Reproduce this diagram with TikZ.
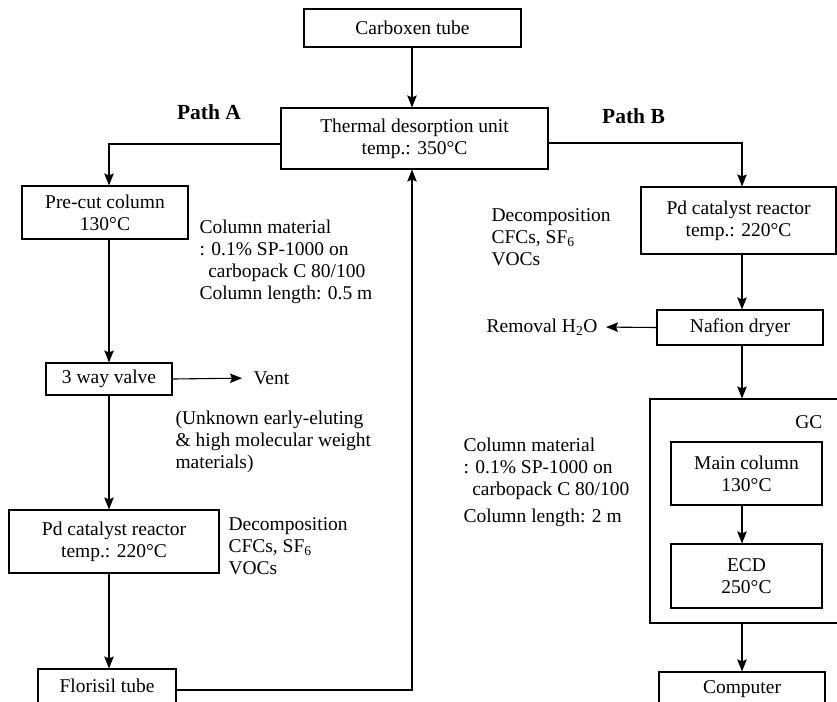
\documentclass[tikz,border=0pt]{standalone}
\usepackage{fontspec}
\setmainfont{Liberation Serif}
\usetikzlibrary{arrows.meta}

\begin{document}
\begin{tikzpicture}[
    x = 1pt, y = -1pt,
    >= {Stealth[length = 12pt, width = 9.5pt, inset = 2pt]},
    line width = 1.1pt,
    every node/.style = {font = \fontsize{19.5}{22}\selectfont, inner sep = 0pt},
    unit/.style = {shape = rectangle, draw = black, align = center},
    note/.style = {align = left, anchor = west},
    pathlabel/.style = {font = \fontsize{21.5}{24}\selectfont\bfseries},
  ]
        \useasboundingbox (0, 0) rectangle (837, 701);

        % ------------------------------------------------------------------------
        % Sample inlet
        \node[unit, minimum width = 217, minimum height = 38] at (412.5, 28) (carboxen) {Carboxen tube};
        \node[unit, minimum width = 267, minimum height = 61] at (414.5, 138.5) (thermal)
          {Thermal desorption unit\\temp.: 350°C};

        \coordinate (colA) at (109, 0);
        \coordinate (colB) at (742, 0);
        \coordinate (colR) at (412, 0);

        \draw
          (carboxen.south -| colR) edge[->] (thermal.north -| colR)
        ;

        % ------------------------------------------------------------------------
        % Path A
        \node[pathlabel] at (209, 112) (pathA) {Path A};

        \node[unit, minimum width = 166, minimum height = 53] at (105, 212.5) (precut) {Pre-cut column\\130°C};
        \node[note] at (199, 261.5) (colmatA)
          {Column material\\: 0.1\% SP-1000 on\\\hspace{0.45em}carbopack C 80/100\\Column length: 0.5 m};

        \node[unit, minimum width = 126, minimum height = 32] at (109, 379) (valve) {3 way valve};
        \node[note] at (253, 378) (vent) {Vent};
        \node[note] at (175, 442) (unknown)
          {(Unknown early-eluting\\\& high molecular weight\\materials)};

        \node[unit, minimum width = 210, minimum height = 63] at (114, 541.5) (pdA)
          {Pd catalyst reactor\\temp.: 220°C};
        \node[note] at (228, 546.5) (decompA)
          {Decomposition\\CFCs, SF\textsubscript{6}\\VOCs};

        \node[unit, minimum width = 138, minimum height = 34] at (107, 686) (florisil) {Florisil tube};

        \draw[->]
          ([yshift = -5.5pt]thermal.west) -| (precut.north -| colA)
        ;
        \draw
          (precut.south -| colA) edge[->] (valve.north -| colA)
          (valve.east) edge[->, shorten >= 11pt] (vent.west)
          (valve.south -| colA) edge[->] (pdA.north -| colA)
          (pdA.south -| colA) edge[->] (florisil.north -| colA)
        ;
        \draw[->]
          ([yshift = -4pt]florisil.east) -| (thermal.south -| colR)
        ;

        % ------------------------------------------------------------------------
        % Path B
        \node[pathlabel] at (633.5, 116) (pathB) {Path B};

        \node[unit, minimum width = 195, minimum height = 67] at (738.5, 220.5) (pdB)
          {Pd catalyst reactor\\temp.: 220°C};
        \node[note] at (491, 237) (decompB)
          {Decomposition\\CFCs, SF\textsubscript{6}\\VOCs};

        \node[unit, minimum width = 166, minimum height = 35] at (740, 327.5) (nafion) {Nafion dryer};
        \node[anchor = east] at (598, 327) (removal) {Removal H\textsubscript{2}O};

        \node[unit, minimum width = 188, minimum height = 224] at (744, 511) (gc) {};
        \node[anchor = east] at (823, 422) (gclabel) {GC};
        \node[unit, minimum width = 151, minimum height = 63] at (746.5, 473.5) (maincol) {Main column\\130°C};
        \node[unit, minimum width = 151, minimum height = 64] at (746.5, 576) (ecd) {ECD\\250°C};
        \node[note] at (463, 482.5) (colmatB)
          {Column material\\: 0.1\% SP-1000 on\\\hspace{0.45em}carbopack C 80/100\\[5pt]Column length: 2 m};

        \node[unit, minimum width = 166, minimum height = 34] at (742, 689) (computer) {Computer};

        \draw[->]
          ([yshift = -4.5pt]thermal.east) -| (pdB.north -| colB)
        ;
        \draw
          (pdB.south -| colB) edge[->] (nafion.north -| colB)
          (nafion.west) edge[->, shorten >= 8pt] (removal.east)
          (nafion.south -| colB) edge[->] (gc.north -| colB)
          (maincol.south -| colB) edge[->] (ecd.north -| colB)
          (gc.south -| colB) edge[->] (computer.north -| colB)
        ;
      \end{tikzpicture}
\end{document}
